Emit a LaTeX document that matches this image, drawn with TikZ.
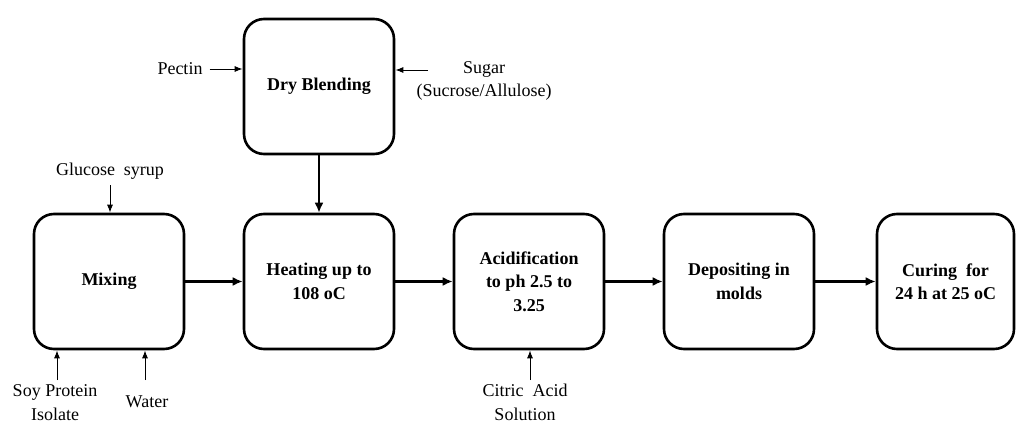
\documentclass[tikz,border=0pt]{standalone}
\usepackage{fontspec}
\setmainfont{Liberation Serif}
\usetikzlibrary{arrows.meta}
\begin{document}
\begin{tikzpicture}[x = 1pt, y = -1pt,
	stage/.style = {draw, line width = 2.6pt, rounded corners = 20pt, minimum height = 135pt, align = center, inner sep = 0pt, font = \fontsize{18}{23.5}\selectfont\bfseries},
	feed/.style = {align = center, inner sep = 0pt, font = \fontsize{18}{23.5}\selectfont},
	flow/.style = {-{Latex[length = 10pt, width = 9pt]}, line width = 2.6pt},
	input/.style = {-{Latex[length = 8pt, width = 6pt]}, line width = 1pt}]
\useasboundingbox (0,0) rectangle (1017,423);
\node[stage, minimum width = 150pt] (dry) at (319,86.5) {Dry Blending};
\foreach \name / \x / \w / \txt in {mix/109/150/Mixing, heat/319/150/Heating up to\\108 oC, acid/529/150/Acidification\\to ph 2.5 to\\3.25, dep/739/150/Depositing in\\molds, cure/945.5/137/Curing\ \ for\\24 h at 25 oC}
{
	\node[stage, minimum width = \w pt] (\name) at (\x,281.5) {\txt};
}
\foreach \a / \b in {mix/heat, heat/acid, acid/dep, dep/cure}
{
	\draw[flow] (\a) -- (\b);
}
\draw[flow] (dry) -- (heat);
\node[feed] (pectin) at (180,69) {Pectin};
\node[feed] (sugar) at (484,81) {Sugar\\(Sucrose/Allulose)};
\node[feed] (glucose) at (110,171) {Glucose\ \ syrup};
\node[feed] (soy) at (55,402.5) {Soy Protein\\Isolate};
\node[feed] (water) at (147,402) {Water};
\node[feed] (citric) at (525,402.5) {Citric\ \ Acid\\Solution};
\coordinate (sugarin) at (428,70);
\draw[input] ([xshift = 7pt]pectin.east) -- (pectin -| dry.west);
\draw[input] (sugarin) -- (sugarin -| dry.east);
\draw[input] ([yshift = -6pt]glucose.south) -- (glucose.south |- mix.north);
\draw[input] (57,380) coordinate (soyin) -- (soyin |- mix.south);
\draw[input] (145,380) coordinate (waterin) -- (waterin |- mix.south);
\draw[input] (530,380) coordinate (citricin) -- (citricin |- acid.south);
\end{tikzpicture}
\end{document}
